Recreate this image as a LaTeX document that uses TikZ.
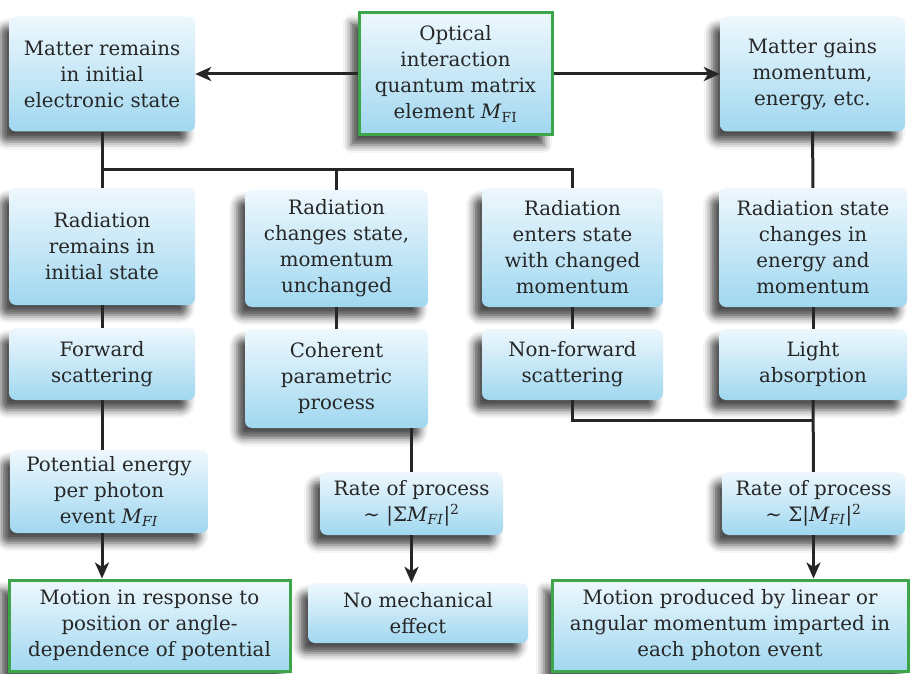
\documentclass[tikz,border=0pt]{standalone}
\usepackage{fontspec}
\setmainfont{DejaVu Serif}
\usetikzlibrary{arrows.meta,calc,shadows.blur}
\definecolor{ink}{HTML}{262626}
\definecolor{skytop}{HTML}{EEF8FD}
\definecolor{skybot}{HTML}{A0D7F0}
\definecolor{frame}{HTML}{3DA54A}
\newcommand{\mfi}{\textit{M}\textsubscript{\textit{FI}}}

\begin{document}
\begin{tikzpicture}[
  x=1pt, y=-1pt,
  >={Stealth[length=16pt,width=14pt,inset=4.5pt]},
  font=\fontsize{19.8}{26}\selectfont,
  box/.style={rectangle, rounded corners=7pt, top color=skytop, bottom color=skybot,
    text=ink, align=center, inner sep=2pt,
    blur shadow={shadow xshift=-8pt, shadow yshift=-10pt, shadow blur radius=8pt, shadow opacity=70}},
  keybox/.style={box, sharp corners, draw=frame, line width=3pt},
  link/.style={ink, line width=3pt},
  flow/.style={->, ink, line width=3pt},
]
\useasboundingbox (0,0) rectangle (911,674);

% ---------- top row ----------
\node[keybox, minimum width=193pt, minimum height=122pt] (optic) at (455.5,74)
  {Optical\\interaction\\quantum matrix\\element \textit{M}\textsubscript{FI}};
\node[box, minimum width=186pt, minimum height=115pt] (mstay) at (102,74)
  {Matter remains\\in initial\\electronic state};
\node[box, minimum width=185pt, minimum height=115pt] (mgain) at (812.5,74)
  {Matter gains\\momentum,\\energy, etc.};

\draw[flow] (optic) -- (mstay);
\draw[flow] (optic) -- (mgain);

% ---------- radiation states ----------
\node[box, minimum width=186pt, minimum height=117pt] (rad1) at (102,246.5)
  {Radiation\\remains in\\initial state};
\node[box, minimum width=183pt, minimum height=117pt] (rad2) at (336.5,248.5)
  {Radiation\\changes state,\\momentum\\unchanged};
\node[box, minimum width=181pt, minimum height=119pt] (rad3) at (572.5,247.5)
  {Radiation\\enters state\\with changed\\momentum};
\node[box, minimum width=188pt, minimum height=119pt] (rad4) at (813,247.5)
  {Radiation state\\changes in\\energy and\\momentum};

\coordinate (bar) at ($(mstay.south)!.67!(rad1.north)$);
\draw[link] (mstay) -- (rad1);
\draw[link] (bar) -| (rad2.north);
\draw[link] (bar) -| (rad3.north);
\draw[link] (mgain) -- (rad4);

% ---------- processes ----------
\node[box, minimum width=186pt, minimum height=72pt] (proc1) at (102,364)
  {Forward\\scattering};
\node[box, minimum width=183pt, minimum height=99pt] (proc2) at (336.5,378.5)
  {Coherent\\parametric\\process};
\node[box, minimum width=181pt, minimum height=71pt] (proc3) at (572.5,364.5)
  {Non-forward\\scattering};
\node[box, minimum width=188pt, minimum height=71pt] (proc4) at (813,364.5)
  {Light\\absorption};

\foreach \r/\p in {rad1/proc1, rad2/proc2, rad3/proc3, rad4/proc4}
  \draw[link] (\r) -- (\p);

% ---------- rates and potential ----------
\node[box, minimum width=198pt, minimum height=83pt] (poten) at (109,491.5)
  {Potential energy\\per photon\\event \mfi};
\node[box, minimum width=183pt, minimum height=63pt] (rate1) at (411.5,503.5)
  {Rate of process\\∼ |Σ\mfi|\textsuperscript{2}};
\node[box, minimum width=183pt, minimum height=63pt] (rate2) at (813.5,503.5)
  {Rate of process\\∼ Σ|\mfi|\textsuperscript{2}};

\draw[link] (proc1.south) -- (proc1.south |- poten.north);
\draw[link] (proc2.south -| rate1.north) -- (rate1.north);
\draw[link] (proc4) -- (rate2);
\draw[link] (proc3.south) |- ($(proc4.south)!.28!(rate2.north)$);

% ---------- mechanical outcome ----------
\node[keybox, minimum width=281pt, minimum height=91pt] (move1) at (149.5,625.5)
  {Motion in response to\\position or angle-\\dependence of potential};
\node[box, minimum width=220pt, minimum height=60pt] (nomech) at (418,613)
  {No mechanical\\effect};
\node[keybox, minimum width=356pt, minimum height=91pt] (move2) at (730,625.5)
  {Motion produced by linear or\\angular momentum imparted in\\each photon event};

\draw[flow] (poten.south -| proc1.south) -- (move1.north -| proc1.south);
\draw[flow] (rate1.south) -- (rate1.south |- nomech.north);
\draw[flow] (rate2.south) -- (rate2.south |- move2.north);

\end{tikzpicture}
\end{document}
